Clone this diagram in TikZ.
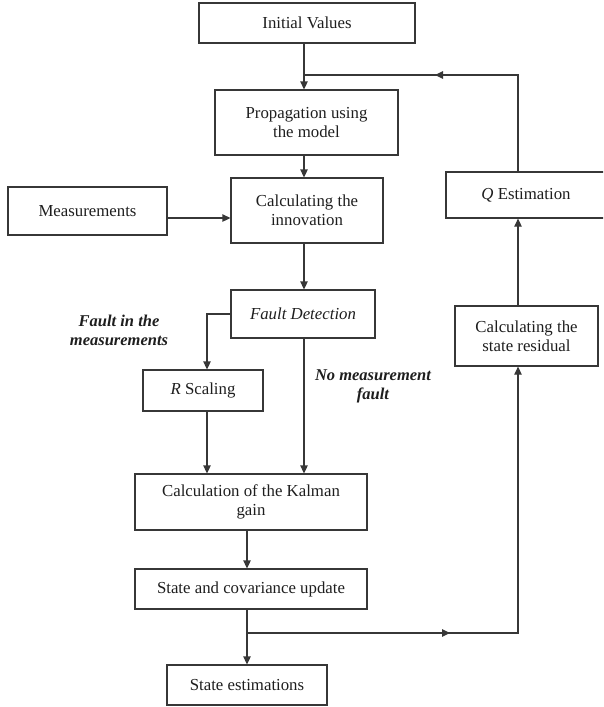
\documentclass[tikz,border=0pt]{standalone}
\usepackage{fontspec}
\setmainfont{Liberation Serif}
\usetikzlibrary{arrows.meta}
\definecolor{linec}{RGB}{55,55,55}
\definecolor{textc}{RGB}{30,30,30}
\begin{document}
\begin{tikzpicture}[x=1pt,y=-1pt,
  box/.style={draw=linec, line width=1.3pt, align=center, inner sep=0pt, text=textc, font=\fontsize{16.8}{19}\selectfont},
  lbl/.style={align=center, inner sep=0pt, text=textc, font=\fontsize{16.5}{19}\selectfont\bfseries\itshape},
  conn/.style={draw=linec, line width=1.3pt},
  arr/.style={conn, -{Triangle[length=8pt,width=7.5pt]}}]
\useasboundingbox (0,0) rectangle (603,707);
\clip (0,0) rectangle (603,707);
% nodes
\node[box, minimum width=216pt, minimum height=40pt] (init) at (307,23) {Initial Values};
\node[box, minimum width=183pt, minimum height=65pt] (prop) at (306.5,122.5) {Propagation using\\the model};
\node[box, minimum width=152pt, minimum height=65pt] (innov) at (307,210.5) {Calculating the\\innovation};
\node[box, minimum width=159pt, minimum height=48pt] (meas) at (87.5,211) {Measurements};
\node[box, minimum width=160pt, minimum height=46pt] (qest) at (526,195) {\textit{Q} Estimation};
\node[box, minimum width=144pt, minimum height=48pt] (fd) at (303,314) {\textit{Fault Detection}};
\node[box, minimum width=143pt, minimum height=60pt] (resid) at (526.5,336) {Calculating the\\state residual};
\node[box, minimum width=120pt, minimum height=41pt] (rsc) at (203,390.5) {\textit{R} Scaling};
\node[box, minimum width=232pt, minimum height=56pt] (kal) at (251,502) {Calculation of the Kalman\\gain};
\node[box, minimum width=232pt, minimum height=40pt] (upd) at (251,589) {State and covariance update};
\node[box, minimum width=160pt, minimum height=40pt] (est) at (247,685) {State estimations};
% labels
\node[lbl] (l1) at (119,330) {Fault in the\\measurements};
\node[lbl] (l2) at (373,386) {No measurement\\fault};
% columns / junctions
\coordinate (cA) at (304,0);
\coordinate (cB) at (518,0);
\coordinate (cC) at (247,0);
\coordinate (cD) at (207,0);
\coordinate (rowM) at (0,218);
\coordinate (j1) at (304,75);
\coordinate (m1) at (435,75);
\coordinate (j2) at (518,75);
\coordinate (j3) at (247,633);
\coordinate (m2) at (450,633);
\coordinate (j4) at (518,633);
% connectors
\draw[arr] (init.south -| cA) -- (prop.north -| cA);
\draw[arr] (prop.south -| cA) -- (innov.north -| cA);
\draw[arr] (meas.east |- rowM) -- (innov.west |- rowM);
\draw[arr] (innov.south -| cA) -- (fd.north -| cA);
\draw[arr] (fd.west) -| (rsc.north -| cD);
\draw[arr] (fd.south -| cA) -- (kal.north -| cA);
\draw[arr] (rsc.south -| cD) -- (kal.north -| cD);
\draw[arr] (kal.south -| cC) -- (upd.north -| cC);
\draw[arr] (upd.south -| cC) -- (est.north -| cC);
\draw[arr] (j3) -- (j4) -- (resid.south -| cB);
\draw[arr] (j3) -- (m2);
\draw[arr] (resid.north -| cB) -- (qest.south -| cB);
\draw[conn] (qest.north -| cB) -- (j2) -- (j1);
\draw[arr] (j2) -- (m1);
\end{tikzpicture}
\end{document}
